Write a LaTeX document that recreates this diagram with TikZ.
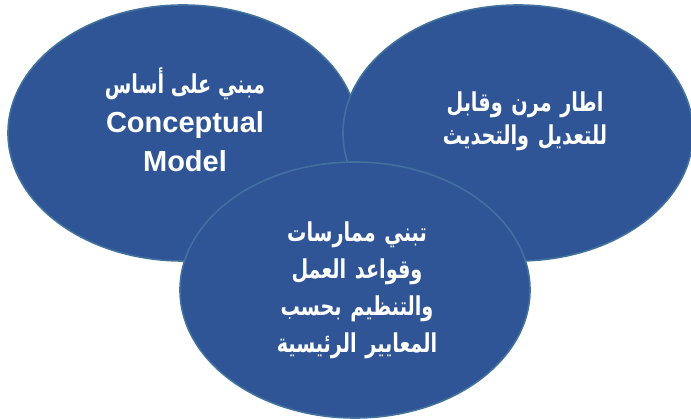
\documentclass[tikz,border=0pt]{standalone}
\usepackage{fontspec}
\setmainfont{Liberation Sans}
\newfontfamily\arabicfont[Script=Arabic, FakeStretch=0.74]{DejaVu Sans}
\TeXXeTstate=1
\usetikzlibrary{shapes.geometric, positioning}
\definecolor{bubblefill}{HTML}{2F5597}
\definecolor{bubbleline}{HTML}{41719C}
\tikzset{
  % ellipse style
  bubble/.style={
    ellipse
    , draw=bubbleline
    , fill=bubblefill
    , line width=1.6pt
    , inner sep=0pt
    , minimum width=350pt
    , minimum height=256pt
  },
}

\begin{document}
\begin{tikzpicture}[x=1pt,y=-1pt]
  \tikzstyle{txt}=[text=white, align=center, inner sep=0pt,
                   font=\bfseries\fontsize{29}{39}\selectfont]
  \tikzstyle{artxt}=[txt, font=\arabicfont\bfseries\fontsize{26}{37}\selectfont]
  \useasboundingbox (0,0) rectangle (691,419);
  % the three ellipses, later ones on top
  \node [bubble] (left) at (183,133) {};
  \node [bubble] (right) at (518,133) {};
  \node [bubble] (bottom) at (355,290) {};
  % texts
  \node [txt] (lefttxt) at ([xshift=2pt,yshift=13pt]left.center)
    {{\arabicfont\fontsize{26}{39}\selectfont\beginR مبني على أساس\endR}\\
     Conceptual\\ Model};
  \node [artxt,text width=200pt,font=\arabicfont\bfseries\fontsize{26}{33}\selectfont]
    (righttxt) at ([xshift=7pt,yshift=12pt]right.center)
    {\beginR اطار مرن وقابل\endR\\ \beginR للتعديل والتحديث\endR};
  \node [artxt,text width=200pt] (bottomtxt) at ([xshift=2pt,yshift=0pt]bottom.center)
    {\beginR تبني ممارسات\endR\\ \beginR وقواعد العمل\endR\\
     \beginR والتنظيم بحسب\endR\\ \beginR المعايير الرئيسية\endR};
\end{tikzpicture}
\end{document}
